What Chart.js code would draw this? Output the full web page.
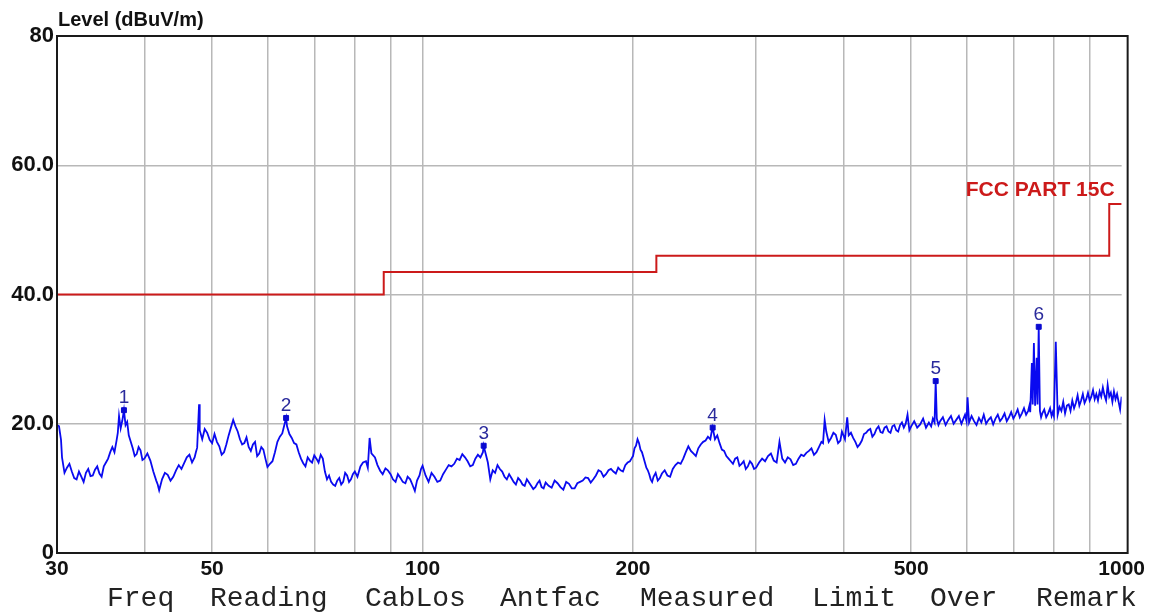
<!DOCTYPE html>
<html><head><meta charset="utf-8">
<script src="https://cdn.jsdelivr.net/npm/chart.js@4"></script>
<style>html,body{margin:0;padding:0;background:#fff;overflow:hidden}#wrap{width:1149px;height:616px;position:relative}</style>
</head><body><div id="wrap"><canvas id="c" width="1149" height="616"></canvas></div>
<script>
// ---- tick values ----
const yTicks = [0, 20, 40, 60, 80];
const xGridTicks = [30, 40, 50, 60, 70, 80, 90, 100, 200, 300, 400, 500, 600, 700, 800, 900, 1000];
const xLabelTicks = [30, 50, 100, 200, 500, 1000];

// ---- limit line: FCC PART 15C (MHz, dBuV/m) ----
const limitFreq  = [30, 88, 88, 216, 216, 960, 960, 1000];
const limitLevel = [40, 40, 43.5, 43.5, 46, 46, 54, 54];
const limitName = 'FCC PART 15C';

// ---- peak markers ----
const markerFreq  = [37.4, 63.8, 122.3, 260, 542, 761];
const markerLevel = [22.1, 20.9, 16.6, 19.4, 26.6, 35.0];
const markerLabel = ['1', '2', '3', '4', '5', '6'];

// ---- measured trace [MHz, dBuV/m] ----
const trace = [
 [30,19.8],[30.2,19.6],[30.4,17.5],[30.5,14.8],[30.75,12.4],[31,13.2],[31.25,13.8],[31.5,12.6],[31.75,11.6],[32,11.4],
 [32.25,12.6],[32.5,11.8],[32.75,11.0],[33,12.4],[33.25,13.0],[33.5,11.9],[33.75,12.0],[34,12.9],[34.25,13.4],[34.5,12.3],
 [34.75,11.8],[35,13.4],[35.25,14.0],[35.5,14.6],[35.75,15.6],[36,16.4],[36.25,15.6],[36.5,17.4],[36.65,18.6],[36.8,21.2],
 [37,19.3],[37.2,20.5],[37.4,22.1],[37.6,19.8],[37.8,20.3],[38,18.2],[38.25,17.2],[38.5,16.2],[38.75,15.0],[39,15.3],
 [39.25,16.4],[39.5,15.9],[39.75,14.4],[40,14.6],
 [40.4,15.4],[40.8,14.3],[41.2,12.6],[41.6,11.2],[41.8,10.6],[42,9.7],[42.4,11.4],[42.8,12.4],[43.2,12.1],[43.6,11.2],
 [44,11.8],[44.4,12.8],[44.8,13.6],[45.2,13.0],[45.6,13.9],[46,14.8],[46.4,15.2],[46.8,14.0],[47.2,14.8],[47.4,15.6],
 [47.6,16.3],[47.9,23.0],[48,19.0],[48.4,17.6],[48.8,19.2],[49.2,18.6],[49.6,17.5],[50,17.0],[50.4,18.4],[50.8,17.2],
 [51.2,16.5],[51.6,15.2],[52,15.6],[52.4,16.8],[52.8,18.2],[53.2,19.4],[53.6,20.6],[54,19.6],[54.4,18.8],[54.8,17.6],
 [55.2,16.8],[55.6,17.0],[56,17.9],[56.4,16.4],[56.8,15.8],[57.2,16.8],[57.6,17.2],[58,15.0],[58.4,15.4],[58.8,16.4],
 [59.2,16.0],[59.6,14.6],[60,13.3],
 [60.5,13.8],[61,14.2],[61.5,15.6],[62,17.2],[62.5,18.0],[63,18.5],[63.8,20.9],[64,19.6],[64.5,18.4],[65,17.8],
 [65.5,17.0],[66,16.8],[66.5,15.6],[67,14.6],[67.5,13.9],[68,13.4],[68.5,14.8],[69,14.3],[69.5,14.0],[70,15.1],
 [70.5,14.6],[71,14.0],[71.5,15.2],[72,14.6],[72.5,12.6],[73,11.4],[73.5,12.0],[74,11.0],[74.5,10.6],[75,10.4],
 [75.5,11.2],[76,11.6],[76.5,10.6],[77,11.0],[77.5,12.4],[78,12.0],[78.5,11.0],[79,11.4],[79.5,12.2],[80,12.6],
 [80.7,11.8],[81.5,13.4],[82.2,14.0],[83,14.2],[83.5,13.2],[84,17.8],[84.5,15.4],[85.5,14.8],[86.2,13.6],[87,12.7],
 [87.7,12.2],[88.5,13.1],[89.2,12.8],[90,12.2],[90.7,11.4],[91.5,11.0],[92.2,12.2],[93,11.6],[93.7,11.0],[94.5,10.8],
 [95.2,11.8],[96,11.4],[96.7,10.6],[97.5,9.6],[98.2,11.2],[99,12.0],[99.5,13.0],[100,13.5],
 [101,12.0],[102,11.0],[103,12.4],[104,11.8],[105,11.0],[106,11.2],[107,12.2],[108,12.9],[109,13.6],[110,13.4],
 [111,13.8],[112,14.6],[113,14.4],[114,15.3],[115,14.8],[116,14.2],[117,13.4],[118,13.6],[119,14.6],[120,15.2],
 [121,14.8],[122,15.6],[122.3,16.6],[124,14.0],[125,11.4],[126,12.8],[127,12.4],[128,13.6],[129,13.0],[130,12.6],
 [131,11.8],[132,11.4],[133,12.2],[134,11.6],[135,11.0],[136,10.6],[137,11.6],[138,11.2],[139,10.6],[140,10.4],
 [141,11.4],[142,10.9],[143,10.4],[144,9.9],[145,10.2],[146,10.8],[147,11.2],[148,10.2],[149,10.0],[150,10.9],
 [151.5,10.4],[153,10.1],[154.5,11.2],[156,10.8],[157.5,10.2],[159,9.8],[160.5,11.0],[162,10.7],[163.5,10.0],[165,10.0],
 [166.5,10.8],[168,11.0],[169.5,11.2],[171,11.7],[172.5,11.6],[174,10.9],[175.5,11.4],[177,12.0],[178.5,12.8],[180,12.6],
 [181.5,11.8],[183,12.2],[184.5,12.8],[186,13.0],[187.5,12.6],[189,12.3],[190.5,13.2],[192,12.8],[193.5,12.6],[195,13.6],
 [196.5,14.0],[198,14.2],[199,14.6],[200,15.0],[201,16.2],[202,16.6],[203,17.6],[204,17.0],[205,16.0],[206,15.6],
 [207,14.8],[208,14.0],[209,13.2],[210,12.8],
 [211,12.2],[212,11.4],[213,11.0],[214,11.8],[215.5,12.4],[217,11.2],[218.5,11.6],[220,12.3],[222,12.8],[224,12.0],
 [226,11.8],[228,13.0],[230,13.6],[232,14.0],[234,13.8],[236,14.6],[238,15.6],[240,16.5],[242,15.8],[244,15.4],
 [246,15.0],[248,16.2],[250,16.8],[252,17.2],[254,17.4],[256,18.0],[258,17.6],[259,18.6],[260,19.4],[262,17.6],
 [264,18.2],[266,17.0],[268,16.0],[270,15.8],[272,15.0],[274,14.6],[276,14.2],[278,13.8],[280,14.6],[282,14.8],
 [284,13.5],[286,13.8],[288,14.2],[290,13.0],[292,13.4],[294,14.2],[296,13.8],[298,13.0],[300,13.2],
 [303,14.0],[306,14.6],[309,14.2],[312,15.0],[315,15.4],[318,14.3],[321,14.0],[324,17.2],[327,14.6],[330,14.0],
 [333,14.8],[336,14.5],[339,13.6],[342,13.8],[345,14.6],[348,15.2],[351,15.0],[354,15.5],[357,15.8],[360,16.2],
 [363,15.2],[366,15.6],[369,16.4],[372,17.2],[374,17.0],[376,20.6],[378,18.8],[381,17.2],[384,17.8],[387,18.6],
 [390,18.3],[393,17.0],[396,17.4],[398,18.8],[400,18.2],[402,17.6],[405,21.0],[407,18.2],[410,18.6],[413,17.8],
 [416,17.2],[419,16.4],[422,16.8],[425,17.4],[428,18.4],[431,18.6],[434,19.0],[437,19.2],[440,18.0],[443,18.4],
 [446,19.2],[449,19.6],[452,18.7],[455,18.6],[458,19.4],[461,19.6],[464,18.8],[467,18.6],[470,19.6],[473,19.8],
 [476,19.0],[479,18.8],[482,19.8],[485,20.2],[488,19.4],[491,20.0],[494,21.4],[497,19.0],[500,19.6],
 [505,20.4],[510,19.4],[515,19.9],[520,20.8],[525,19.4],[530,20.2],[534,19.6],[537,20.8],[540,20.2],[542,26.6],
 [544,20.8],[547,19.8],[550,20.4],[555,21.0],[560,19.8],[565,20.6],[570,21.2],[575,20.0],[580,20.6],[585,21.2],
 [590,20.0],[594,20.8],[597,21.4],[600,20.4],[602,24.1],[605,20.2],[610,21.2],[615,20.4],[620,19.8],[625,20.9],
 [630,20.2],[635,21.4],[640,20.0],[645,20.6],[650,21.0],[655,19.9],[660,20.8],[665,21.4],[670,20.4],[675,20.9],
 [680,21.6],[685,20.4],[690,21.0],[695,21.8],[700,20.8],[705,21.4],[710,22.2],[715,21.0],[720,21.6],[725,22.4],
 [730,21.4],[735,22.0],[738,22.8],[740,21.8],[744,29.4],[746,23.0],[749,32.5],[752,22.8],[756,30.2],[758,23.0],
 [761,35.0],[764,22.0],[767,21.0],[770,21.6],[775,22.2],[780,21.0],[785,21.6],[790,22.4],[794,21.2],[797,21.8],
 [800,21.2],[805,32.7],[810,21.4],[815,22.6],[820,22.0],[825,23.4],[830,21.6],[835,22.8],[840,23.0],[845,22.0],
 [850,23.6],[855,22.4],[860,23.2],[865,24.4],[870,22.8],[875,23.6],[880,24.6],[885,23.2],[890,23.8],[895,24.8],
 [900,23.6],[905,24.2],[910,25.2],[915,23.8],[920,24.6],[925,23.6],[930,25.0],[935,24.2],[940,25.6],[945,24.4],
 [950,23.6],[955,26.0],[960,24.2],[965,24.8],[970,23.4],[975,25.0],[980,23.8],[985,24.6],[990,23.4],[995,22.2],
 [1000,24.2]
];

// ---- text ----
const yTitle = 'Level (dBuV/m)';
const bottomWords = ['Freq', 'Reading', 'CabLos', 'Antfac', 'Measured', 'Limit', 'Over', 'Remark'];

const SANS = '"Liberation Sans", Arial, sans-serif';
const MONO = '"Liberation Mono", "Courier New", monospace';

const overlay = {
  id: 'overlay',
  afterDatasetsDraw(chart) {
    const ctx = chart.ctx, ca = chart.chartArea;
    const xs = chart.scales.x, ys = chart.scales.y;
    ctx.save();
    // frame
    ctx.strokeStyle = '#1a1a1a';
    ctx.lineWidth = 2;
    ctx.strokeRect(ca.left, ca.top, ca.right + 6 - ca.left, ca.bottom - ca.top);
    // marker numbers
    ctx.fillStyle = '#2a2a9c';
    ctx.font = '19px ' + SANS;
    ctx.textAlign = 'center';
    ctx.textBaseline = 'alphabetic';
    markerFreq.forEach((f, i) => {
      const px = xs.getPixelForValue(f), py = ys.getPixelForValue(markerLevel[i]);
      ctx.fillText(markerLabel[i], px, py - 7);
    });
    // limit name
    ctx.fillStyle = '#cc1a1a';
    ctx.font = 'bold 21px ' + SANS;
    ctx.textAlign = 'right';
    ctx.fillText(limitName, ca.right - 7, 196);
    // y title
    ctx.fillStyle = '#111';
    ctx.font = 'bold 20px ' + SANS;
    ctx.textAlign = 'left';
    ctx.fillText(yTitle, ca.left + 1, 26);
    // bottom column headings
    ctx.fillStyle = '#222';
    ctx.font = '28px ' + MONO;
    const pos = [107, 210, 365, 500, 640, 812, 930, 1036];
    bottomWords.forEach((w, i) => ctx.fillText(w, pos[i], 606));
    ctx.restore();
  }
};

const GRID = '#b8b8b8';
new Chart(document.getElementById('c'), {
  type: 'line',
  data: {
    datasets: [
      {
        label: 'Level',
        data: trace.map(p => ({x: p[0], y: p[1]})),
        borderColor: '#0a0af0',
        borderWidth: 1.8,
        pointRadius: 0,
        tension: 0,
        order: 2
      },
      {
        label: limitName,
        data: limitFreq.map((f, i) => ({x: f, y: limitLevel[i]})),
        borderColor: '#cc1a1a',
        borderWidth: 2,
        pointRadius: 0,
        tension: 0,
        order: 1
      },
      {
        label: 'Markers',
        data: markerFreq.map((f, i) => ({x: f, y: markerLevel[i]})),
        showLine: false,
        pointStyle: 'rect',
        pointRadius: 3.5,
        backgroundColor: '#0a0ad0',
        borderColor: '#0a0ad0',
        order: 0
      }
    ]
  },
  options: {
    responsive: false,
    animation: false,
    devicePixelRatio: 1,
    layout: {padding: {left: 0, top: 36, right: 27, bottom: 33}},
    plugins: {legend: {display: false}, tooltip: {enabled: false}, title: {display: false}},
    scales: {
      x: {
        type: 'logarithmic',
        min: 30, max: 1000,
        afterBuildTicks: s => { s.ticks = xGridTicks.map(v => ({value: v})); },
        afterFit: s => { s.height = 30; },
        ticks: {
          autoSkip: false, maxRotation: 0, minRotation: 0, padding: 4,
          color: '#111',
          font: {family: SANS, weight: 'bold', size: 21},
          callback: v => xLabelTicks.includes(v) ? String(v) : ''
        },
        grid: {
          drawTicks: false,
          lineWidth: 1.5,
          color: c => (c.tick && (c.tick.value === 30 || c.tick.value === 1000)) ? 'rgba(0,0,0,0)' : GRID
        },
        border: {display: false}
      },
      y: {
        type: 'linear',
        min: 0, max: 80,
        afterBuildTicks: s => { s.ticks = yTicks.map(v => ({value: v})); },
        afterFit: s => { s.width = 57; },
        ticks: {
          padding: 3,
          color: '#111',
          font: {family: SANS, weight: 'bold', size: 22},
          callback: v => (v === 80 ? '80' : (v === 0 ? '0' : v.toFixed(1)))
        },
        grid: {
          drawTicks: false,
          lineWidth: 1.5,
          color: c => (c.tick && (c.tick.value === 0 || c.tick.value === 80)) ? 'rgba(0,0,0,0)' : GRID
        },
        border: {display: false}
      }
    }
  },
  plugins: [overlay]
});
</script>
</body></html>
